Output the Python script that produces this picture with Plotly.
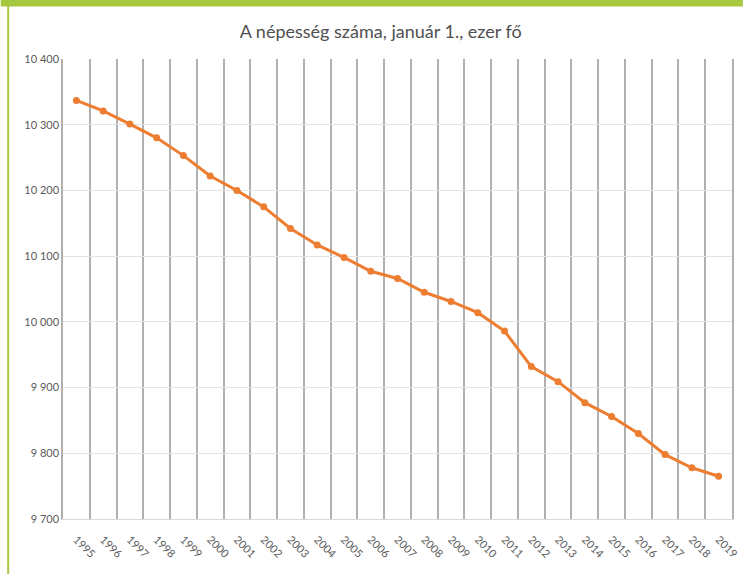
import plotly.graph_objects as go

years = [str(y) for y in range(1995, 2020)]
population = [10337, 10321, 10301, 10280, 10253, 10222, 10200, 10175, 10142, 10117,
              10098, 10077, 10066, 10045, 10031, 10014, 9986, 9932, 9909, 9877,
              9856, 9830, 9798, 9778, 9765]
y_ticks = [9700, 9800, 9900, 10000, 10100, 10200, 10300, 10400]
title_text = "A népesség száma, január 1., ezer fő"

fig = go.Figure()
fig.add_trace(go.Scatter(
    x=years, y=population, mode="lines+markers",
    line=dict(color="#ED7D31", width=3),
    marker=dict(color="#ED7D31", size=7),
    showlegend=False,
))

W, H = 751, 574
ml, mr, mt, mb = 63, 11, 59, 55
pw, ph = W - ml - mr, H - mt - mb

def px(x):
    return (x - ml) / pw

def py(y):
    return (H - mb - y) / ph

green = "#A5C83F"
fig.add_shape(type="rect", xref="paper", yref="paper",
              x0=px(0), x1=px(W), y0=py(6.5), y1=py(-1),
              fillcolor=green, line=dict(width=0), layer="above")
fig.add_shape(type="rect", xref="paper", yref="paper",
              x0=px(6.5), x1=px(8.5), y0=py(H), y1=py(0),
              fillcolor=green, line=dict(width=0), layer="above")

fig.update_layout(
    width=W, height=H,
    margin=dict(l=ml, r=mr, t=mt, b=mb),
    paper_bgcolor="white", plot_bgcolor="white",
    separators=", ",
    font=dict(family="Lato, sans-serif", color="#595959", size=11),
    title=dict(text=title_text, x=0.507, xanchor="center", y=0.945, yanchor="middle",
               font=dict(size=18, color="#505050")),
    xaxis=dict(type="category", tickson="boundaries", tickangle=45,
               showgrid=True, gridcolor="#B0B0B0", gridwidth=1.5,
               ticks="", showline=True, linecolor="#D9D9D9", linewidth=1,
               ticklabelstandoff=9,
               range=[-0.5, 24.5], tickfont=dict(size=11, color="#595959")),
    yaxis=dict(range=[9700, 10400], tickvals=y_ticks, tickformat=",d",
               showgrid=True, gridcolor="#E3E3E3", gridwidth=1,
               zeroline=False, showline=True, mirror=True,
               linecolor="#B0B0B0", linewidth=1.5, ticks="",
               tickfont=dict(size=11, color="#595959")),
)

fig.write_html("out.html", config={"displayModeBar": False},
               post_script="document.body.style.margin='0';")
